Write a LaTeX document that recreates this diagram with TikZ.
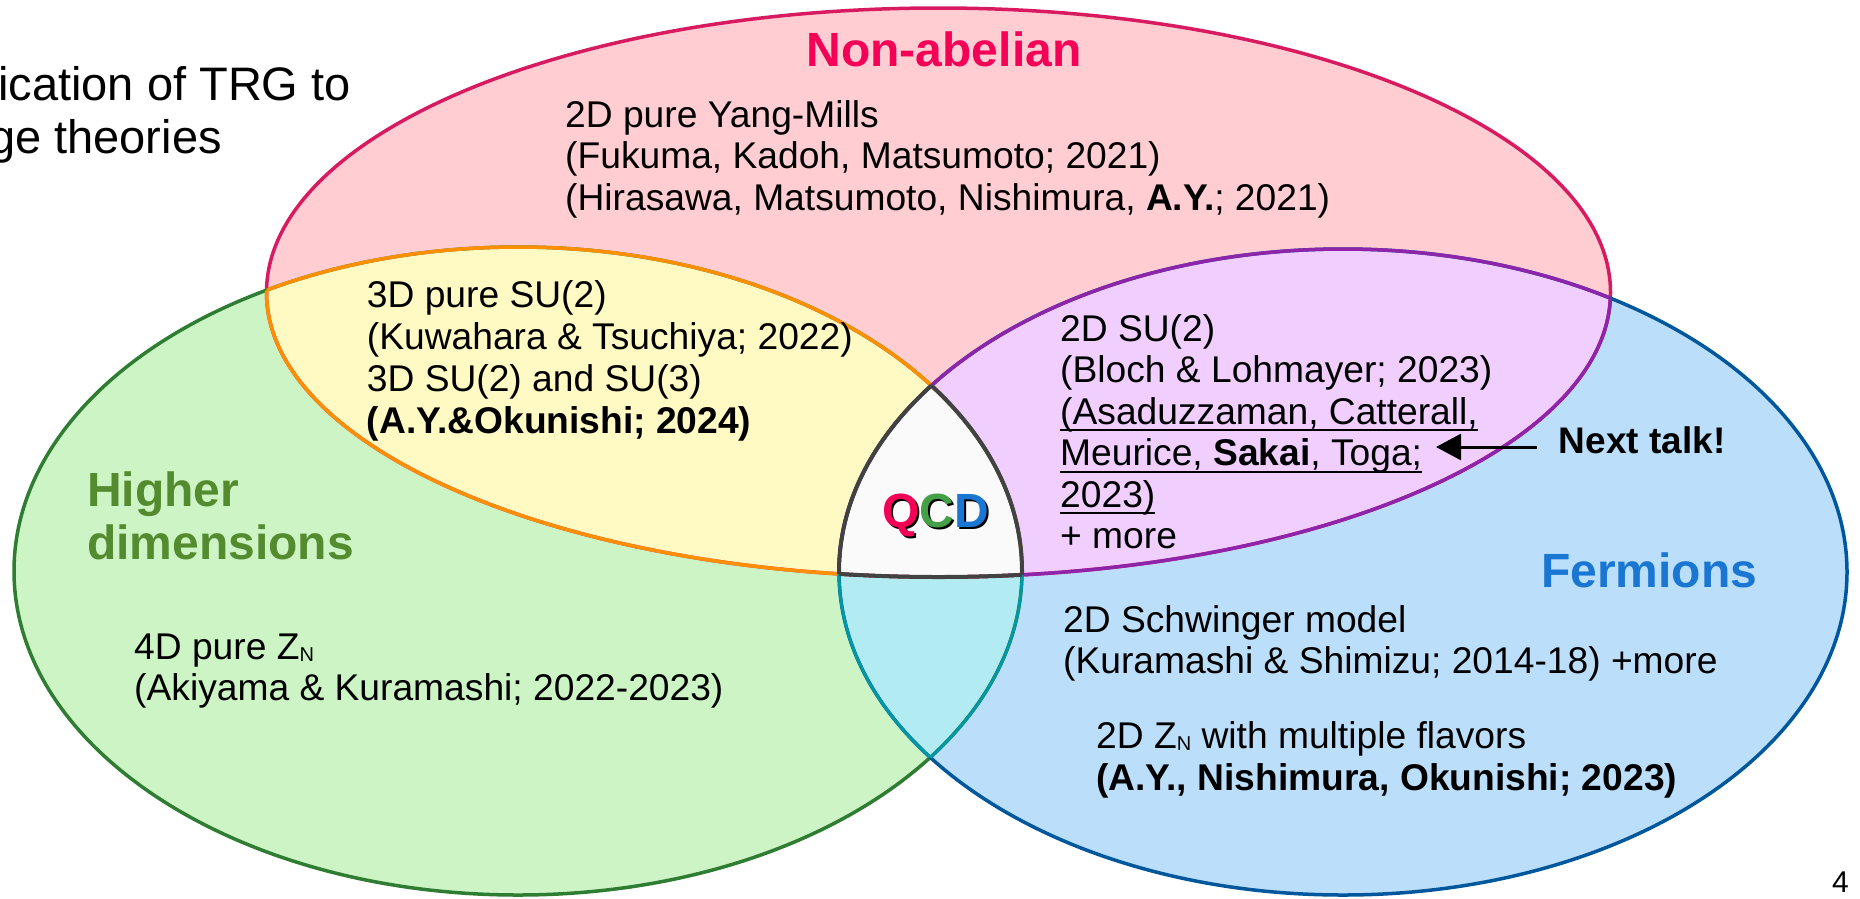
\documentclass[tikz,border=0pt]{standalone}
\usepackage{fontspec}
\setmainfont{Liberation Sans}
\usetikzlibrary{arrows.meta}
\definecolor{pinkF}{HTML}{FFCDD2}
\definecolor{redL}{HTML}{D81B60}
\definecolor{yellowF}{HTML}{FFF9C4}
\definecolor{orangeL}{HTML}{FF8F00}
\definecolor{greenF}{HTML}{CDF4C5}
\definecolor{greenL}{HTML}{2E7D32}
\definecolor{blueF}{HTML}{BBDEFB}
\definecolor{blueL}{HTML}{01579B}
\definecolor{purpleF}{HTML}{F0CFFF}
\definecolor{purpleL}{HTML}{8E24AA}
\definecolor{cyanF}{HTML}{B2EBF2}
\definecolor{cyanL}{HTML}{0097A7}
\definecolor{qcdF}{HTML}{FAFAFA}
\definecolor{qcdL}{HTML}{424242}
\definecolor{nonab}{HTML}{F50057}
\definecolor{higher}{HTML}{558B2F}
\definecolor{fermc}{HTML}{1976D2}
\definecolor{qQ}{HTML}{F50057}
\definecolor{qC}{HTML}{43A047}
\definecolor{qD}{HTML}{1976D2}
\newcommand\Ered{(938.5,292.5) ellipse [x radius=672, y radius=284.5]}
\newcommand\Egreen{(518,571) ellipse [x radius=504, y radius=324]}
\newcommand\Eblue{(1343,572) ellipse [x radius=504, y radius=323]}
\newcommand\ulx[1]{\setbox0\hbox{#1}\rlap{\rule[-7pt]{\wd0}{2pt}}\box0}
\newcommand\subN{\raisebox{-2.5pt}{\fontsize{20}{20}\selectfont N}}
\tikzset{
  body/.style={anchor=base west, inner sep=0pt, font=\fontsize{37.2}{41.5}\selectfont},
  head/.style={inner sep=0pt, font=\fontsize{48}{55}\selectfont\bfseries},
  rim/.style={line width=3.5pt},
  qrim/.style={line width=4pt, qcdL},
}
\begin{document}
\begin{tikzpicture}[x=1pt,y=-1pt]
\useasboundingbox (0,0) rectangle (1860,898);
\fill[white] (0,0) rectangle (1860,898);
% region fills
\fill[pinkF] \Ered;
\fill[greenF] \Egreen;
\fill[blueF] \Eblue;
\begin{scope}\clip \Egreen; \fill[yellowF] \Ered; \end{scope}
\begin{scope}\clip \Eblue; \fill[purpleF] \Ered; \end{scope}
\begin{scope}\clip \Egreen; \fill[cyanF] \Eblue; \end{scope}
\begin{scope}\clip \Egreen; \clip \Ered; \fill[qcdF] \Eblue; \end{scope}
% outer outlines
\draw[rim, redL] \Ered;
\draw[rim, greenL] \Egreen;
\draw[rim, blueL] \Eblue;
% pairwise outlines
\begin{scope}\clip \Egreen; \draw[rim, orangeL] \Ered; \end{scope}
\begin{scope}\clip \Ered; \draw[rim, orangeL] \Egreen; \end{scope}
\begin{scope}\clip \Eblue; \draw[rim, purpleL] \Ered; \end{scope}
\begin{scope}\clip \Ered; \draw[rim, purpleL] \Eblue; \end{scope}
\begin{scope}\clip \Eblue; \draw[line width=3pt, cyanL] \Egreen; \end{scope}
\begin{scope}\clip \Egreen; \draw[line width=3pt, cyanL] \Eblue; \end{scope}
% triple outline
\begin{scope}\clip \Egreen; \clip \Eblue; \draw[qrim] \Ered; \end{scope}
\begin{scope}\clip \Ered; \clip \Eblue; \draw[qrim] \Egreen; \end{scope}
\begin{scope}\clip \Ered; \clip \Egreen; \draw[qrim] \Eblue; \end{scope}

% title (cropped)
\node[anchor=base west, inner sep=0pt, font=\fontsize{47}{50}\selectfont] (t1) at (-2,100) {ication of TRG to};
\node[anchor=base west, inner sep=0pt, font=\fontsize{47}{50}\selectfont] (t2) at (-11,153.3) {ge theories};

% headings
\node[head, text=nonab, anchor=base] (hNA) at (944,66) {Non-abelian};
\node[head, text=higher, anchor=base west] (hHi1) at (87,506) {Higher};
\node[head, text=higher, anchor=base west] (hHi2) at (87,559) {dimensions};
\node[head, text=fermc, anchor=base west] (hFe) at (1541,587) {Fermions};

% non-abelian block
\node[body] (a1) at (565,127) {2D pure Yang-Mills};
\node[body] (a2) at (565,168.5) {(Fukuma, Kadoh, Matsumoto; 2021)};
\node[body] (a3) at (565,210) {(Hirasawa, Matsumoto, Nishimura, \textbf{A.Y.}; 2021)};

% yellow block
\node[body] (b1) at (366.7,307) {3D pure SU(2)};
\node[body] (b2) at (366.7,349) {(Kuwahara \& Tsuchiya; 2022)};
\node[body] (b3) at (366.7,391) {3D SU(2) and SU(3)};
\node[body] (b4) at (366.7,433) {\textbf{(A.Y.\&Okunishi; 2024)}};

% green block
\node[body] (c1) at (134,659) {4D pure Z\subN};
\node[body] (c2) at (134,700.5) {(Akiyama \& Kuramashi; 2022-2023)};

% purple block
\node[body] (d1) at (1060,341) {2D SU(2)};
\node[body] (d2) at (1060,382.5) {(Bloch \& Lohmayer; 2023)};
\node[body] (d3) at (1060,424) {\ulx{(Asaduzzaman, Catterall,}};
\node[body] (d4) at (1060,465.5) {\ulx{Meurice, \textbf{Sakai}, Toga;}};
\node[body] (d5) at (1060,507) {\ulx{2023)}};
\node[body] (d6) at (1060,548.5) {+ more};

% next talk
\node[anchor=base west, inner xsep=22pt, inner ysep=0pt, font=\fontsize{37}{41.5}\selectfont\bfseries] (next) at (1536.7,453) {Next talk!};
\coordinate (tip) at (1436,447);
\draw[line width=3pt, -{Triangle[length=25pt,width=26pt]}] (next.west |- tip) -- (tip);

% blue block
\node[body] (e1) at (1063,632) {2D Schwinger model};
\node[body] (e2) at (1063,673) {(Kuramashi \& Shimizu; 2014-18) +more};
\node[body] (e3) at (1096,748) {2D Z\subN{} with multiple flavors};
\node[body] (e4) at (1096,790) {\textbf{(A.Y., Nishimura, Okunishi; 2023)}};

% QCD
\node[head, anchor=base, text=black] (qcdsh) at (937.5,529) {QCD};
\node[head, anchor=base] (qcd) at (935.5,527) {\textcolor{qQ}{Q}\textcolor{qC}{C}\textcolor{qD}{D}};

% page number
\node[anchor=base east, inner sep=0pt, font=\fontsize{30}{30}\selectfont] (pg) at (1849,892) {4};
\end{tikzpicture}
\end{document}
